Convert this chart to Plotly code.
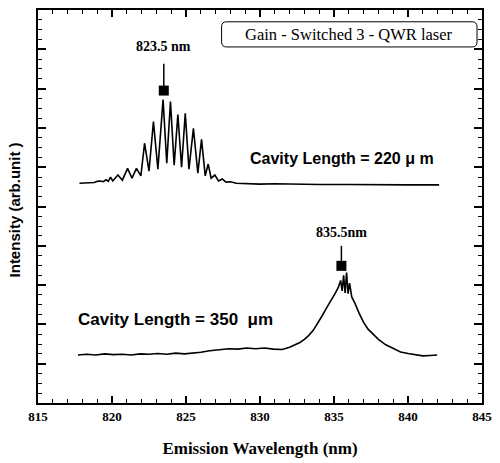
import plotly.graph_objects as go

# ---- data ----
wl_220 = [817.8, 818.2, 818.5, 818.8, 819.0, 819.2, 819.4, 819.6, 819.75, 819.9,
          820.05, 820.4, 820.7, 821.05, 821.35, 821.65, 821.95, 822.2, 822.5, 822.8,
          823.1, 823.45, 823.7, 823.95, 824.2, 824.45, 824.7, 824.95, 825.2, 825.5,
          825.8, 826.05, 826.3, 826.5, 826.7, 826.95, 827.2, 827.45, 827.7, 828.0,
          828.4, 829.0, 829.5, 830.0, 831.0, 832.0, 834.0, 836.0, 838.0, 840.0, 842.1]
int_220 = [5.59, 5.60, 5.62, 5.61, 5.64, 5.65, 5.63, 5.68, 5.64, 5.75,
           5.65, 5.80, 5.67, 5.97, 5.72, 5.97, 5.78, 6.61, 5.90, 7.16,
           5.95, 7.72, 6.10, 7.67, 6.05, 7.34, 6.00, 7.37, 5.95, 6.99,
           5.85, 6.71, 5.78, 6.08, 5.72, 5.80, 5.65, 5.70, 5.62, 5.63,
           5.59, 5.58, 5.59, 5.57, 5.58, 5.57, 5.56, 5.56, 5.55, 5.55, 5.55]

wl_350 = [817.7, 818.3, 818.9, 819.5, 820.1, 820.7, 821.3, 821.9, 822.5, 823.1,
          823.7, 824.3, 824.9, 825.5, 826.0, 826.6, 827.2, 827.9, 828.5, 829.1,
          829.7, 830.3, 830.9, 831.5, 832.0, 832.4, 832.7, 833.0, 833.3, 833.6,
          833.9, 834.2, 834.5, 834.8, 835.1, 835.3, 835.45, 835.55, 835.65, 835.75,
          835.85, 835.95, 836.05, 836.2, 836.4, 836.7, 837.0, 837.3, 837.6, 838.0,
          838.5, 839.0, 839.5, 840.0, 840.5, 841.0, 841.5, 841.97]
int_350 = [1.22, 1.24, 1.22, 1.25, 1.23, 1.24, 1.22, 1.25, 1.24, 1.26,
           1.24, 1.27, 1.25, 1.27, 1.29, 1.33, 1.35, 1.38, 1.37, 1.40,
           1.38, 1.40, 1.37, 1.36, 1.42, 1.48, 1.54, 1.62, 1.72, 1.85,
           2.02, 2.22, 2.42, 2.60, 2.80, 2.95, 3.12, 2.85, 3.25, 2.80,
           3.32, 2.78, 3.05, 2.70, 2.55, 2.28, 2.05, 1.88, 1.76, 1.62,
           1.48, 1.38, 1.30, 1.26, 1.23, 1.20, 1.21, 1.22]

peak_wl = [823.5, 835.5]
peak_val = [7.95, 3.49]
peak_labels = ["823.5 nm", "835.5nm"]
stem_len = [0.68, 0.51]
label_off = [1.11, 0.84]

x_ticks = [815, 820, 825, 830, 835, 840, 845]

fig = go.Figure()
fig.add_trace(go.Scatter(x=wl_220, y=int_220, mode="lines",
                         line=dict(color="black", width=1.6), showlegend=False))
fig.add_trace(go.Scatter(x=wl_350, y=int_350, mode="lines",
                         line=dict(color="black", width=1.6), showlegend=False))

for px, pv, sl, lab, lo in zip(peak_wl, peak_val, stem_len, peak_labels, label_off):
    fig.add_trace(go.Scatter(x=[px, px], y=[pv, pv + sl], mode="lines",
                             line=dict(color="black", width=1.5), showlegend=False))
    fig.add_annotation(x=px, y=pv + lo, text="<b>%s</b>" % lab, showarrow=False,
                       xanchor="center", yanchor="middle",
                       font=dict(family="Liberation Serif", size=14, color="black"))
fig.add_trace(go.Scatter(x=peak_wl, y=peak_val, mode="markers",
                         marker=dict(symbol="square", size=10, color="black"),
                         showlegend=False))

fig.add_annotation(x=835.57, y=6.23, text="<b>Cavity Length = 220 \u03bc m</b>",
                   showarrow=False, xanchor="center", yanchor="middle",
                   font=dict(family="Liberation Sans", size=16, color="black"))
fig.add_annotation(x=824.3, y=2.12, text="<b>Cavity Length = 350 &nbsp;\u03bcm</b>",
                   showarrow=False, xanchor="center", yanchor="middle",
                   font=dict(family="Liberation Sans", size=17, color="black"))

# legend-like box
fig.add_annotation(xref="paper", yref="paper", x=0.701, y=0.938,
                   xanchor="center", yanchor="middle",
                   text="Gain - Switched 3 - QWR laser", showarrow=False,
                   font=dict(family="Liberation Serif", size=16.5, color="black"))
x0, x1, y0, y1 = 0.4135, 0.9888, 0.906, 0.970
rx, ry = 0.011, 0.0127
path = (f"M {x0+rx},{y0} L {x1-rx},{y0} Q {x1},{y0} {x1},{y0+ry} "
        f"L {x1},{y1-ry} Q {x1},{y1} {x1-rx},{y1} L {x0+rx},{y1} "
        f"Q {x0},{y1} {x0},{y1-ry} L {x0},{y0+ry} Q {x0},{y0} {x0+rx},{y0} Z")
fig.add_shape(type="path", path=path, xref="paper", yref="paper",
              line=dict(color="black", width=1))

fig.add_annotation(xref="paper", yref="paper", x=-0.054, y=0.49,
                   xanchor="center", yanchor="middle",
                   text="<b>Intensity (arb.unit )</b>", textangle=-90, showarrow=False,
                   font=dict(family="Liberation Sans", size=15, color="black"))

fig.update_xaxes(range=[815, 845], tickvals=x_ticks, ticktext=[str(t) for t in x_ticks],
                 ticks="inside", ticklen=7, tickwidth=1.5, tickcolor="black",
                 minor=dict(dtick=1, ticks="inside", ticklen=4, tickcolor="black", tickwidth=1.2),
                 showline=True, linecolor="black", linewidth=2, mirror="allticks",
                 showgrid=False, zeroline=False,
                 tickfont=dict(family="Liberation Serif", size=13, color="black", weight="bold"),
                 ticklabelstandoff=0,
                 title=dict(text="<b>Emission Wavelength (nm)</b>", standoff=20,
                            font=dict(family="Liberation Serif", size=17, color="black")))
fig.update_yaxes(range=[0, 10], dtick=1, tick0=0, showticklabels=False,
                 ticks="inside", ticklen=8, tickwidth=1.5, tickcolor="black",
                 minor=dict(dtick=0.25, ticks="inside", ticklen=4, tickcolor="black", tickwidth=1.2),
                 showline=True, linecolor="black", linewidth=2, mirror="allticks",
                 showgrid=False, zeroline=False)

fig.update_layout(width=500, height=463, margin=dict(l=38, r=17, t=8, b=60),
                  plot_bgcolor="white", paper_bgcolor="white", showlegend=False)

fig.write_html("out.html")
